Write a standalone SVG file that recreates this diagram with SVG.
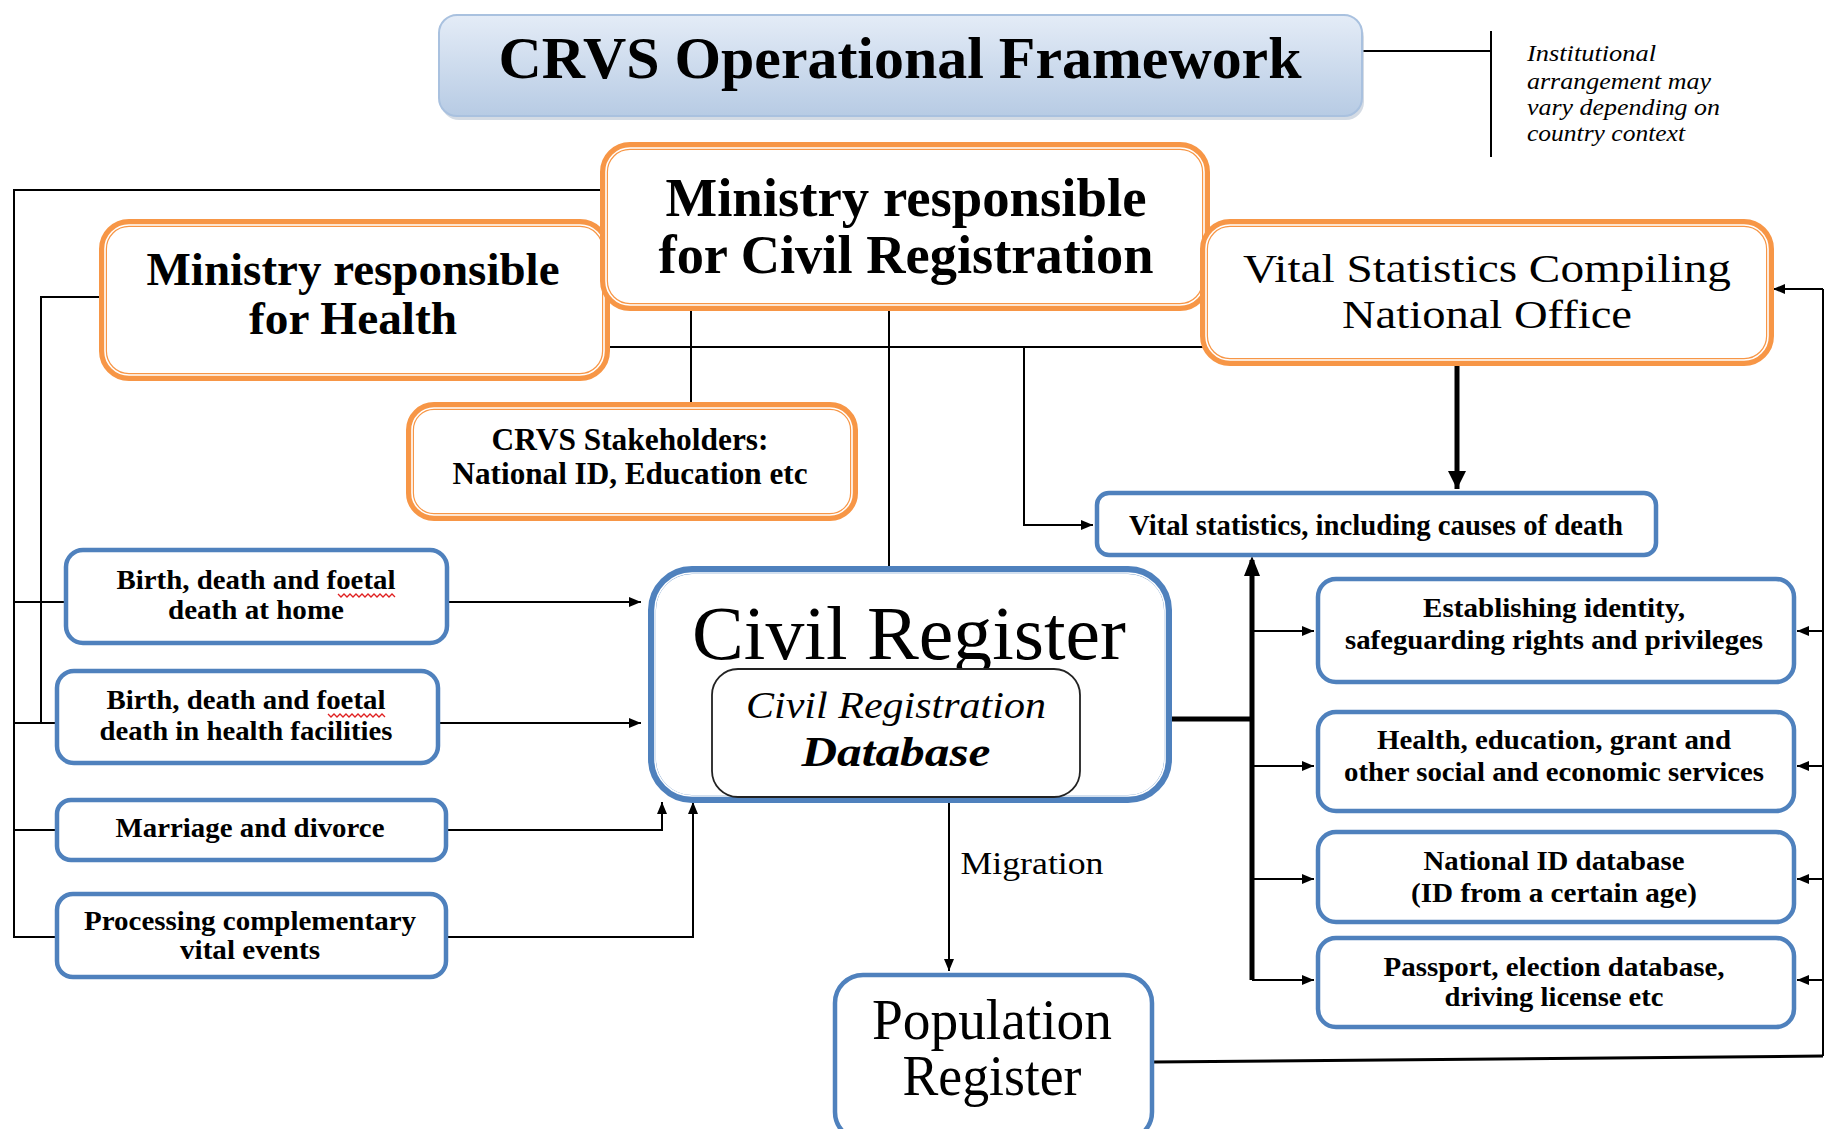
<svg xmlns="http://www.w3.org/2000/svg" width="1825" height="1129" viewBox="0 0 1825 1129">
<defs>
<linearGradient id="tg" x1="0" y1="0" x2="0" y2="1">
<stop offset="0" stop-color="#e4ecf7"/>
<stop offset="1" stop-color="#b7cbe4"/>
</linearGradient>
<marker id="ar" viewBox="0 0 12 10" refX="12" refY="5" markerWidth="12" markerHeight="10" markerUnits="userSpaceOnUse" orient="auto">
<path d="M0,0 L12,5 L0,10 z" fill="#000"/>
</marker>
<marker id="arB" viewBox="0 0 18 22" refX="22" refY="11" markerWidth="22" markerHeight="18" markerUnits="userSpaceOnUse" orient="auto">
<path d="M0,0 L22,11 L0,22 z" fill="#000"/>
</marker>
</defs>
<style>
.ln{fill:none;stroke:#000;stroke-width:2}
.tk{fill:none;stroke:#000;stroke-width:5}
.oo{fill:#fff;stroke:#f79646;stroke-width:8}
.oi{fill:none;stroke:#fff;stroke-width:1.6}
.bb{fill:#fff;stroke:#4f81bd;stroke-width:4.5}
.bo{fill:#fff;stroke:#4f81bd;stroke-width:8}
.t{font-family:"Liberation Serif","Times New Roman",serif;text-anchor:middle;fill:#000}
.b{font-weight:bold}
.i{font-style:italic}
.s{font-size:28px}
.sq{fill:none;stroke:#e02020;stroke-width:1.3}
</style>

<g id="connectors">
<path class="ln" d="M602,190 H14 V937 H55 M14,602 H64 M14,723 H55 M14,830 H55"/>
<path class="ln" d="M122,297 H41 V723 M41,602 H64 M41,723 H55"/>
<path class="ln" d="M595,347 H1224"/>
<path class="ln" d="M691,277 V419"/>
<path class="ln" d="M889,308 V570"/>
<path class="ln" d="M1024,347 V525 H1093" marker-end="url(#ar)"/>
<path class="tk" d="M1457,363 V489" marker-end="url(#arB)"/>
<path class="ln" d="M447,602 H641" marker-end="url(#ar)"/>
<path class="ln" d="M439,723 H641" marker-end="url(#ar)"/>
<path class="ln" d="M447,830 H662 V802" marker-end="url(#ar)"/>
<path class="ln" d="M447,937 H693 V802" marker-end="url(#ar)"/>
<path class="ln" d="M949,797 V971" marker-end="url(#ar)"/>
<path class="tk" d="M1080,719 H1252"/>
<path class="tk" d="M1252,980 V560"/>
<path d="M1252,556 L1244,576 L1260,576 z" fill="#000"/>
<path class="ln" d="M1252,631 H1314" marker-end="url(#ar)"/>
<path class="ln" d="M1252,766 H1314" marker-end="url(#ar)"/>
<path class="ln" d="M1252,879 H1314" marker-end="url(#ar)"/>
<path class="ln" d="M1252,980 H1314" marker-end="url(#ar)"/>
<path class="tk" d="M1153,1062 L1823,1056" style="stroke-width:3"/>
<path class="ln" d="M1823,1056 V289"/>
<path class="ln" d="M1823,289 H1773" marker-end="url(#ar)"/>
<path class="ln" d="M1823,631 H1797" marker-end="url(#ar)"/>
<path class="ln" d="M1823,766 H1797" marker-end="url(#ar)"/>
<path class="ln" d="M1823,879 H1797" marker-end="url(#ar)"/>
<path class="ln" d="M1823,980 H1797" marker-end="url(#ar)"/>
<path class="ln" d="M1362,51 H1491 M1491,31 V157"/>
</g>

<g id="title">
<rect x="441" y="19" width="923" height="101" rx="18" fill="#b8c3d2" opacity="0.6"/>
<rect x="439" y="15" width="923" height="101" rx="18" fill="url(#tg)" stroke="#a9c1df" stroke-width="2"/>
<text class="t b" x="900" y="78" font-size="60" textLength="803" lengthAdjust="spacingAndGlyphs">CRVS Operational Framework</text>
</g>

<g id="note">
<text class="t i" style="text-anchor:start" x="1527" y="61" font-size="23" textLength="129" lengthAdjust="spacingAndGlyphs">Institutional</text>
<text class="t i" style="text-anchor:start" x="1527" y="89" font-size="23" textLength="184" lengthAdjust="spacingAndGlyphs">arrangement may</text>
<text class="t i" style="text-anchor:start" x="1527" y="115" font-size="23" textLength="193" lengthAdjust="spacingAndGlyphs">vary depending on</text>
<text class="t i" style="text-anchor:start" x="1527" y="141" font-size="23" textLength="158" lengthAdjust="spacingAndGlyphs">country context</text>
</g>

<g id="ministry-health">
<rect class="oo" x="103" y="223" width="503" height="154" rx="26"/>
<rect class="oi" x="105" y="225" width="499" height="150" rx="24"/>
<text class="t b" x="353" y="285" font-size="46" textLength="413" lengthAdjust="spacingAndGlyphs">Ministry responsible</text>
<text class="t b" x="353" y="334" font-size="46" textLength="208" lengthAdjust="spacingAndGlyphs">for Health</text>
</g>

<g id="ministry-cr">
<rect class="oo" x="604" y="146" width="602" height="161" rx="26"/>
<rect class="oi" x="606" y="148" width="598" height="157" rx="24"/>
<text class="t b" x="906" y="216" font-size="54" textLength="481" lengthAdjust="spacingAndGlyphs">Ministry responsible</text>
<text class="t b" x="906" y="273" font-size="54" textLength="495" lengthAdjust="spacingAndGlyphs">for Civil Registration</text>
</g>

<g id="vs-office">
<rect class="oo" x="1204" y="223" width="566" height="139" rx="26"/>
<rect class="oi" x="1206" y="225" width="562" height="135" rx="24"/>
<text class="t" x="1487" y="282" font-size="41" textLength="488" lengthAdjust="spacingAndGlyphs">Vital Statistics Compiling</text>
<text class="t" x="1487" y="328" font-size="41" textLength="290" lengthAdjust="spacingAndGlyphs">National Office</text>
</g>

<g id="stakeholders">
<rect class="oo" x="410" y="406" width="444" height="111" rx="24"/>
<rect class="oi" x="412" y="408" width="440" height="107" rx="22"/>
<text class="t b" x="630" y="450" font-size="31" textLength="277" lengthAdjust="spacingAndGlyphs">CRVS Stakeholders:</text>
<text class="t b" x="630" y="484" font-size="31" textLength="355" lengthAdjust="spacingAndGlyphs">National ID, Education etc</text>
</g>

<g id="vital-statistics">
<rect class="bb" x="1097" y="493" width="559" height="62" rx="12"/>
<text class="t b" x="1376" y="535" font-size="29" textLength="494" lengthAdjust="spacingAndGlyphs">Vital statistics, including causes of death</text>
</g>

<g id="civil-register">
<rect class="bo" x="652" y="570" width="516" height="229" rx="40"/>
<rect class="oi" x="655" y="573" width="510" height="223" rx="37"/>
<text class="t" x="909" y="659" font-size="76" textLength="434" lengthAdjust="spacingAndGlyphs">Civil Register</text>
</g>

<g id="cr-database">
<rect x="712" y="669" width="368" height="128" rx="26" fill="#fff" stroke="#222" stroke-width="1.8"/>
<text class="t i" x="896" y="718" font-size="38" textLength="300" lengthAdjust="spacingAndGlyphs">Civil Registration</text>
<text class="t b i" x="896" y="766" font-size="42" textLength="189" lengthAdjust="spacingAndGlyphs">Database</text>
</g>

<g id="birth-home">
<rect class="bb" x="66" y="550" width="381" height="93" rx="17"/>
<text class="t b s" x="256" y="589" textLength="279" lengthAdjust="spacingAndGlyphs">Birth, death and foetal</text>
<text class="t b s" x="256" y="619" textLength="176" lengthAdjust="spacingAndGlyphs">death at home</text>
<path class="sq" d="M338,594 l3,3 l3,-3 l3,3 l3,-3 l3,3 l3,-3 l3,3 l3,-3 l3,3 l3,-3 l3,3 l3,-3 l3,3 l3,-3 l3,3 l3,-3 l3,3 l3,-3 l3,3"/>
</g>

<g id="birth-facilities">
<rect class="bb" x="57" y="671" width="381" height="92" rx="17"/>
<text class="t b s" x="246" y="709" textLength="279" lengthAdjust="spacingAndGlyphs">Birth, death and foetal</text>
<text class="t b s" x="246" y="740" textLength="293" lengthAdjust="spacingAndGlyphs">death in health facilities</text>
<path class="sq" d="M328,714 l3,3 l3,-3 l3,3 l3,-3 l3,3 l3,-3 l3,3 l3,-3 l3,3 l3,-3 l3,3 l3,-3 l3,3 l3,-3 l3,3 l3,-3 l3,3 l3,-3 l3,3"/>
</g>

<g id="marriage">
<rect class="bb" x="57" y="800" width="389" height="60" rx="14"/>
<text class="t b s" x="250" y="837" textLength="269" lengthAdjust="spacingAndGlyphs">Marriage and divorce</text>
</g>

<g id="processing">
<rect class="bb" x="57" y="894" width="389" height="83" rx="16"/>
<text class="t b s" x="250" y="930" textLength="332" lengthAdjust="spacingAndGlyphs">Processing complementary</text>
<text class="t b s" x="250" y="959" textLength="140" lengthAdjust="spacingAndGlyphs">vital events</text>
</g>

<g id="identity">
<rect class="bb" x="1318" y="579" width="476" height="103" rx="18"/>
<text class="t b s" x="1554" y="617" textLength="262" lengthAdjust="spacingAndGlyphs">Establishing identity,</text>
<text class="t b s" x="1554" y="649" textLength="418" lengthAdjust="spacingAndGlyphs">safeguarding rights and privileges</text>
</g>

<g id="services">
<rect class="bb" x="1318" y="712" width="476" height="99" rx="18"/>
<text class="t b s" x="1554" y="749" textLength="354" lengthAdjust="spacingAndGlyphs">Health, education, grant and</text>
<text class="t b s" x="1554" y="781" textLength="420" lengthAdjust="spacingAndGlyphs">other social and economic services</text>
</g>

<g id="national-id">
<rect class="bb" x="1318" y="832" width="476" height="90" rx="18"/>
<text class="t b s" x="1554" y="870" textLength="261" lengthAdjust="spacingAndGlyphs">National ID database</text>
<text class="t b s" x="1554" y="902" textLength="286" lengthAdjust="spacingAndGlyphs">(ID from a certain age)</text>
</g>

<g id="passport">
<rect class="bb" x="1318" y="938" width="476" height="89" rx="18"/>
<text class="t b s" x="1554" y="976" textLength="341" lengthAdjust="spacingAndGlyphs">Passport, election database,</text>
<text class="t b s" x="1554" y="1006" textLength="219" lengthAdjust="spacingAndGlyphs">driving license etc</text>
</g>

<g id="population-register">
<rect class="bb" x="835" y="975" width="317" height="165" rx="28"/>
<text class="t" x="992" y="1039" font-size="56" textLength="240" lengthAdjust="spacingAndGlyphs">Population</text>
<text class="t" x="992" y="1095" font-size="56" textLength="179" lengthAdjust="spacingAndGlyphs">Register</text>
</g>

<g id="migration-label">
<text class="t" x="1032" y="874" font-size="32" textLength="143" lengthAdjust="spacingAndGlyphs">Migration</text>
</g>
</svg>
